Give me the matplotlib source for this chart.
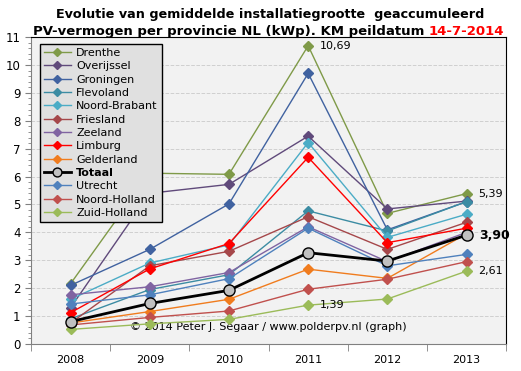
import matplotlib
matplotlib.use("Agg")
import matplotlib.pyplot as plt
from matplotlib.ticker import MultipleLocator, FixedLocator

years = ["2008", "2009", "2010", "2011", "2012", "2013"]

drenthe = [2.16, 6.12, 6.08, 10.69, 4.68, 5.39]
overijssel = [1.30, 5.40, 5.72, 7.45, 4.84, 5.12]
groningen = [2.10, 3.39, 5.02, 9.70, 4.09, 5.10]
flevoland = [0.90, 1.95, 2.48, 4.77, 4.05, 5.10]
noord_brabant = [1.60, 2.90, 3.55, 7.22, 3.82, 4.65]
friesland = [0.75, 2.80, 3.32, 4.56, 3.39, 4.36]
zeeland = [1.76, 2.05, 2.56, 4.20, 2.95, 4.00]
limburg = [1.12, 2.69, 3.60, 6.69, 3.63, 4.15]
gelderland = [0.75, 1.16, 1.60, 2.68, 2.35, 3.95]
totaal = [0.80, 1.45, 1.92, 3.27, 2.97, 3.90]
utrecht = [1.43, 1.76, 2.34, 4.15, 2.80, 3.21]
noord_holland = [0.68, 0.95, 1.18, 1.96, 2.32, 2.95]
zuid_holland = [0.52, 0.72, 0.88, 1.39, 1.61, 2.61]

series = [
    ("Drenthe", drenthe, "#7F9A48"),
    ("Overijssel", overijssel, "#604A7B"),
    ("Groningen", groningen, "#4062A0"),
    ("Flevoland", flevoland, "#3C8CA3"),
    ("Noord-Brabant", noord_brabant, "#4BACC6"),
    ("Friesland", friesland, "#A5474A"),
    ("Zeeland", zeeland, "#8064A2"),
    ("Limburg", limburg, "#FF0000"),
    ("Gelderland", gelderland, "#F07C1E"),
    ("Totaal", totaal, "black"),
    ("Utrecht", utrecht, "#4F81BD"),
    ("Noord-Holland", noord_holland, "#C0504D"),
    ("Zuid-Holland", zuid_holland, "#9BBB59"),
]

fig = plt.figure(figsize=(5.21, 3.71), dpi=100)
ax = fig.add_axes([0.0595, 0.073, 0.912, 0.827])
ax.set_facecolor("#F2F2F2")

x = list(range(len(years)))
for name, vals, col in series:
    if name == "Totaal":
        ax.plot(x, vals, color="black", lw=2, marker="o", ms=8,
                mfc="#C0C0C0", mec="black", mew=1, label=name, zorder=5)
    else:
        ax.plot(x, vals, color=col, lw=1, marker="D", ms=5,
                mfc=col, mec=col, label=name, zorder=3)

# waarden bij de punten
ax.text(3.15, drenthe[3], "10,69", fontsize=8, va="center")
ax.text(3.15, zuid_holland[3], "1,39", fontsize=8, va="center")
ax.text(5.15, drenthe[5], "5,39", fontsize=8, va="center")
ax.text(5.16, totaal[5], "3,90", fontsize=9, fontweight="bold", va="center")
ax.text(5.15, zuid_holland[5], "2,61", fontsize=8, va="center")

ax.text(2.5, 0.62, "\u00a9 2014 Peter J. Segaar / www.polderpv.nl (graph)",
        fontsize=8, ha="center", va="center", zorder=1)

ax.set_xlim(-0.5, 5.5)
ax.set_ylim(0, 11)
ax.yaxis.set_major_locator(MultipleLocator(1))
ax.yaxis.set_minor_locator(MultipleLocator(0.2))
ax.grid(axis="y", which="major", color="#CFCFCF", ls="--", lw=0.7)
ax.set_axisbelow(True)

ax.set_xticks(x)
ax.set_xticklabels(years)
ax.xaxis.set_minor_locator(FixedLocator([i - 0.5 for i in range(7)]))
ax.tick_params(axis="x", which="major", length=0, labelsize=8, pad=8)
ax.tick_params(axis="x", which="minor", length=5, color="#808080")
ax.tick_params(axis="y", which="major", length=4, labelsize=8.5, color="#808080")
ax.tick_params(axis="y", which="minor", length=2, color="#808080")

ax.spines["left"].set_color("#808080")
ax.spines["bottom"].set_color("#808080")
ax.spines["top"].set_color("black")
ax.spines["right"].set_color("black")

leg = ax.legend(loc="upper left", bbox_to_anchor=(0.019, 0.977), fontsize=8,
                frameon=True, fancybox=False, borderpad=0.35, labelspacing=0.3,
                handlelength=2.4, handletextpad=0.5, markerscale=0.8,
                borderaxespad=0)
leg.get_frame().set_facecolor("#E0E0E0")
leg.get_frame().set_edgecolor("black")
leg.get_frame().set_alpha(1)
for t in leg.get_texts():
    if t.get_text() == "Totaal":
        t.set_fontweight("bold")

fig.text(0.518, 0.962, "Evolutie van gemiddelde installatiegrootte  geaccumuleerd",
         ha="center", va="center", fontsize=9.2, fontweight="bold")
t1 = fig.text(0.063, 0.916, "PV-vermogen per provincie NL (kWp). KM peildatum ",
              ha="left", va="center", fontsize=9.55, fontweight="bold")
fig.canvas.draw()
bb = t1.get_window_extent()
fig.text(bb.x1 / fig.bbox.width, 0.916, "14-7-2014", ha="left", va="center",
         fontsize=9.55, fontweight="bold", color="red")

fig.savefig("out.png", dpi=100)
